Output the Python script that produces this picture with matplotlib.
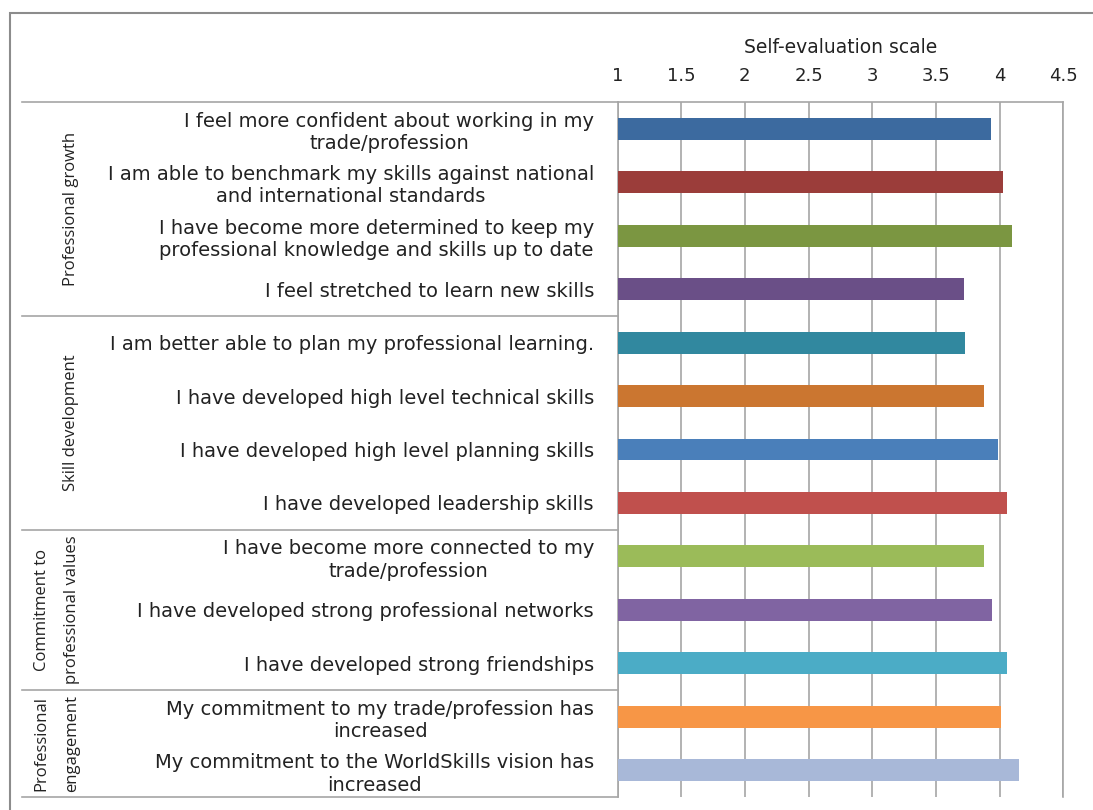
import matplotlib.pyplot as plt
import matplotlib.transforms as mtransforms
from matplotlib.patches import Rectangle

# statements, top to bottom
labels = [
    "I feel more confident about working in my\ntrade/profession",
    "I am able to benchmark my skills against national\nand international standards",
    "I have become more determined to keep my\nprofessional knowledge and skills up to date",
    "I feel stretched to learn new skills",
    "I am better able to plan my professional learning.",
    "I have developed high level technical skills",
    "I have developed high level planning skills",
    "I have developed leadership skills",
    "I have become more connected to my\ntrade/profession",
    "I have developed strong professional networks",
    "I have developed strong friendships",
    "My commitment to my trade/profession has\nincreased",
    "My commitment to the WorldSkills vision has\nincreased",
]
scores = [3.93, 4.03, 4.10, 3.72, 3.73, 3.88, 3.99, 4.06, 3.88, 3.94, 4.06, 4.01, 4.15]
colors = ["#3C6A9F", "#9B3D3A", "#7B9641", "#6A4F87", "#31889F", "#CB7630",
          "#4A7FBA", "#C0504D", "#9BBB59", "#8064A2", "#4BACC6", "#F79646", "#A8B8D8"]

groups = ["Professional growth", "Skill development",
          "Commitment to\nprofessional values", "Professional\nengagement"]
group_sizes = [4, 4, 3, 2]

xticks = [1, 1.5, 2, 2.5, 3, 3.5, 4, 4.5]

txt = "#222222"
fig = plt.figure(figsize=(10.93, 8.10), dpi=100)
ax = fig.add_axes([617.5 / 1093, 1 - 797 / 810, (1063.3 - 617.5) / 1093, (797 - 102) / 810])

y = list(range(len(labels)))
ax.barh(y, [s - 1 for s in scores], left=1, height=0.41, color=colors, zorder=3)

ax.set_xlim(1, 4.5)
ax.set_ylim(len(labels) - 0.5, -0.5)
ax.xaxis.tick_top()
ax.xaxis.set_label_position("top")
ax.set_xticks(xticks)
ax.set_xticklabels([f"{t:g}" for t in xticks], fontsize=13, color=txt)
ax.tick_params(axis="x", length=0, pad=12)
ax.set_xlabel("Self-evaluation scale", fontsize=13.5, labelpad=10, color=txt)
ax.grid(axis="x", color="#A6A6A6", lw=1.2, zorder=0)

ax.set_yticks(y)
ax.set_yticklabels(labels, fontsize=14, color=txt, linespacing=1.22)
ax.tick_params(axis="y", length=0, pad=17)
for t in ax.get_yticklabels():
    t.set_multialignment("center")

for side in ["top", "left", "right"]:
    ax.spines[side].set_color("#A6A6A6")
    ax.spines[side].set_linewidth(1.2)
ax.spines["bottom"].set_visible(False)

# group separators and group labels
trans = mtransforms.blended_transform_factory(fig.transFigure, ax.transData)
x0 = 22 / 1093
x1 = 617.5 / 1093
bounds = [-0.5]
for n in group_sizes:
    bounds.append(bounds[-1] + n)
for b in bounds:
    ax.plot([x0, x1], [b, b], transform=trans, color="#A6A6A6", lw=1.2, clip_on=False)

for i, g in enumerate(groups):
    mid = (bounds[i] + bounds[i + 1]) / 2
    gx = 57 if "\n" in g else 71
    ax.text(gx / 1093, mid, g, transform=trans, rotation=90, ha="center", va="center",
            fontsize=12, fontfamily="Open Sans", color=txt, linespacing=2.2)

# outer chart frame
fig.patches.append(Rectangle((10 / 1093, -0.1), 1.2, 1.1 - 13 / 810, transform=fig.transFigure,
                             fill=False, edgecolor="#8C8C8C", lw=1.5))

fig.savefig("out.png", dpi=100)
